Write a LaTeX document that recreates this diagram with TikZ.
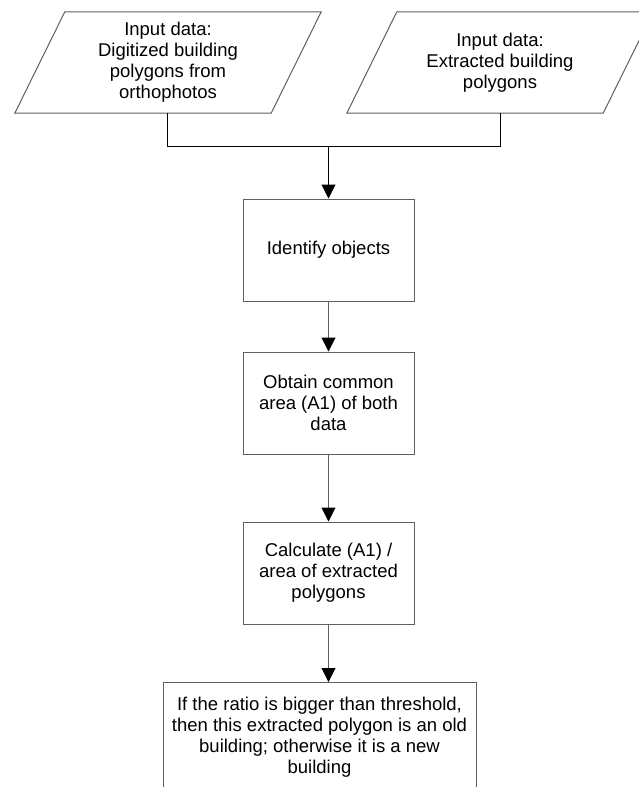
\documentclass[tikz,border=0pt]{standalone}
\usepackage{fontspec}
\setmainfont{Liberation Sans}
\usepackage{tikz}
\usetikzlibrary{arrows.meta, positioning}
\definecolor{boxgray}{RGB}{95,95,95}

\tikzset{
    stepbox/.style={draw=boxgray, fill=white, line width=1pt, align=center, inner sep=2pt,
        minimum width=171pt, minimum height=102pt,
        font=\fontsize{18.5}{21}\selectfont},
    inputbox/.style={align=center, inner sep=2pt,
        minimum width=256pt, minimum height=101pt,
        font=\fontsize{18.5}{21}\selectfont},
    flow/.style={draw=boxgray, line width=1pt, -{Triangle[black, length=14pt, width=14pt]}}
}

\begin{document}
\begin{tikzpicture}[x=1pt, y=-1pt]
            \useasboundingbox (0,0) rectangle (639,787);
            \clip (0,0) rectangle (639,787);

            \node[inputbox] (digit) at (168,62.5) {Input data:\\Digitized building\\polygons from\\orthophotos};
            \node[inputbox] (extr) at (500,62.5) {Input data:\\Extracted building\\polygons};

            % slanted sides of the input boxes
            \draw[boxgray, line width=1pt] ([xshift=25pt]digit.north west) -- ([xshift=25pt]digit.north east)
                -- ([xshift=-25pt]digit.south east) -- ([xshift=-25pt]digit.south west) -- cycle;
            \draw[boxgray, line width=1pt] ([xshift=25pt]extr.north west) -- ([xshift=25pt]extr.north east)
                -- ([xshift=-25pt]extr.south east) -- ([xshift=-25pt]extr.south west) -- cycle;

            \node[stepbox] (ident) at (328.5,250) {Identify objects};
            \node[stepbox] (common) at (328.5,403) {Obtain common\\area (A1) of both\\data};
            \node[stepbox] (ratio) at (328.5,573) {Calculate (A1) /\\area of extracted\\polygons};
            \node[stepbox, minimum width=313pt, minimum height=110pt, anchor=north] (decide) at (319.5,682)
                {If the ratio is bigger than threshold,\\then this extracted polygon is an old\\building; otherwise it is a new\\building};

            \coordinate (join) at (328.5,146.5);
            \draw[black, line width=1pt] ([xshift=-0.5pt]digit.south) -- ([xshift=-0.5pt]digit.south |- join)
                -- (extr.south |- join) -- (extr.south);
            \draw[flow, draw=black] (join) -- (ident.north);
            \draw[flow] (ident.south) -- (common.north);
            \draw[flow] (common.south) -- (ratio.north);
            \draw[flow] (ratio.south) -- (ratio.south |- decide.north);
        \end{tikzpicture}
\end{document}
